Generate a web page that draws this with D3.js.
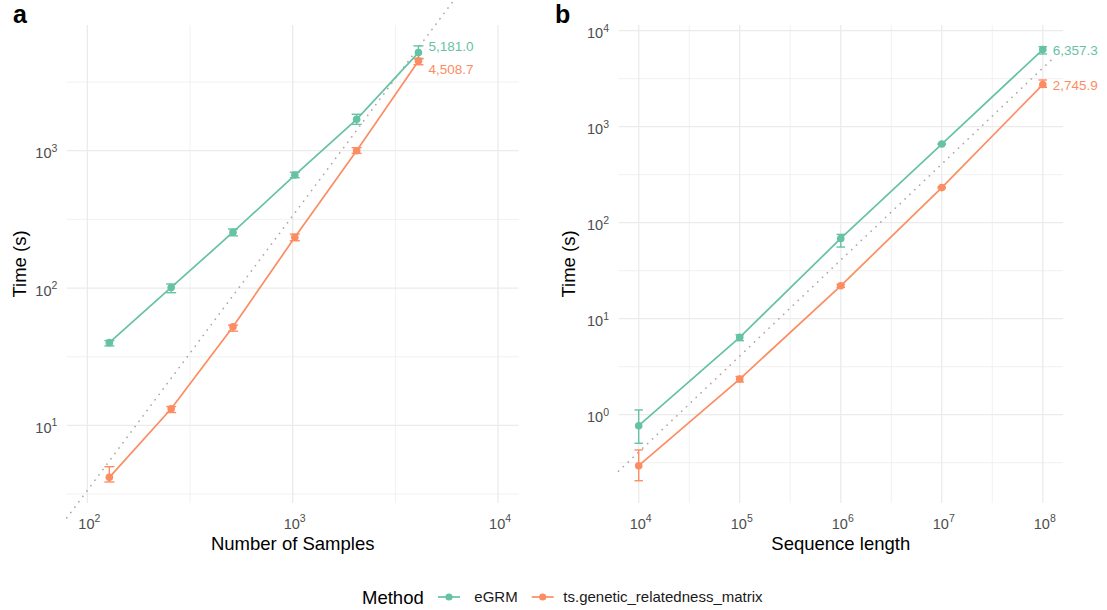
<!DOCTYPE html>
<html>
<head>
<meta charset="utf-8">
<script src="https://cdn.jsdelivr.net/npm/d3@7"></script>
<style>
  body { margin: 0; background: #ffffff; }
  svg { display: block; font-family: "Liberation Sans", Arial, Helvetica, sans-serif; }
</style>
</head>
<body>
<svg id="chart" width="1107" height="610"></svg>
<script>
// ---- data -----------------------------------------------------------------
const methods = ["eGRM", "ts.genetic_relatedness_matrix"];
const methodColors = ["#66C2A5", "#FC8D62"];

// (a) runtime vs number of samples
const sampleSizes = [128, 256, 512, 1024, 2048, 4096];
const samplesEgrm   = [40, 101, 255, 665, 1693, 5181.0];
const samplesEgrmLo = [37.9, 92.5, 240, 636, 1556, 4700];
const samplesEgrmHi = [41.4, 107, 269, 697, 1842, 5800];
const samplesTs     = [4.18, 13.2, 52.3, 234, 1000, 4508.7];
const samplesTsLo   = [3.87, 12.4, 48.5, 221, 957, 4227];
const samplesTsHi   = [5.0, 13.7, 53.7, 247, 1052, 4677];

// (b) runtime vs sequence length
const seqLengths = [1e4, 1e5, 1e6, 1e7, 1e8];
const seqEgrm   = [0.768, 6.4, 68.5, 659, 6357.3];
const seqEgrmLo = [0.504, 5.9, 55.7, 652, 5715];
const seqEgrmHi = [1.12, 6.8, 75.5, 666, 6813];
const seqTs     = [0.294, 2.35, 22.0, 232, 2745.9];
const seqTsLo   = [0.205, 2.19, 21.2, 229, 2571];
const seqTsHi   = [0.429, 2.5, 22.8, 235, 3064];

// axis limits (log10 exponents) and tick exponents
const samplesXLimits = [1.9, 4.1];
const samplesYLimits = [0.4345, 3.9155];
const samplesXTicks = [2, 3, 4];
const samplesYTicks = [1, 2, 3];
const seqXLimits = [3.8, 8.2];
const seqYLimits = [-0.92, 4.059];
const seqXTicks = [4, 5, 6, 7, 8];
const seqYTicks = [0, 1, 2, 3, 4];

// reference scaling lines: anchor point and slope on log-log axes
const samplesRef = { x0: 1000, y0: 336, slope: 2, xEnd: 4.1 };
const seqRef = { x0: 1e4, y0: 0.408, slope: 1, xEnd: 8.09 };

// ---- layout ---------------------------------------------------------------
const svg = d3.select("#chart");
const tickColor = "#4D4D4D";
const gridColor = "#EBEBEB";

function tenPow(sel, exp) {
  sel.append("tspan").text("10");
  sel.append("tspan").attr("dy", -6.5).attr("font-size", 10.5).text(exp);
}

function drawPanel(cfg) {
  const x = d3.scaleLog().domain(cfg.xLimits.map(e => 10 ** e)).range(cfg.xRange);
  const y = d3.scaleLog().domain(cfg.yLimits.map(e => 10 ** e)).range([503, 25]);
  const g = svg.append("g");

  // grid: majors at powers of ten, minors half a decade between
  const minorX = d3.range(Math.ceil(cfg.xLimits[0] - 0.5), cfg.xLimits[1], 1).map(e => e + 0.5)
    .filter(e => e > cfg.xLimits[0] && e < cfg.xLimits[1]);
  const minorY = d3.range(Math.ceil(cfg.yLimits[0] - 0.5), cfg.yLimits[1], 1).map(e => e + 0.5)
    .filter(e => e > cfg.yLimits[0] && e < cfg.yLimits[1]);

  g.selectAll(".gyMinor").data(minorY).join("line")
    .attr("x1", cfg.xRange[0]).attr("x2", cfg.xRange[1])
    .attr("y1", d => y(10 ** d)).attr("y2", d => y(10 ** d))
    .attr("stroke", gridColor).attr("stroke-width", 0.7);
  g.selectAll(".gxMinor").data(minorX).join("line")
    .attr("y1", 25).attr("y2", 503)
    .attr("x1", d => x(10 ** d)).attr("x2", d => x(10 ** d))
    .attr("stroke", gridColor).attr("stroke-width", 0.7);
  g.selectAll(".gyMajor").data(cfg.yTicks).join("line")
    .attr("x1", cfg.xRange[0]).attr("x2", cfg.xRange[1])
    .attr("y1", d => y(10 ** d)).attr("y2", d => y(10 ** d))
    .attr("stroke", gridColor).attr("stroke-width", 1.3);
  g.selectAll(".gxMajor").data(cfg.xTicks).join("line")
    .attr("y1", 25).attr("y2", 503)
    .attr("x1", d => x(10 ** d)).attr("x2", d => x(10 ** d))
    .attr("stroke", gridColor).attr("stroke-width", 1.3);

  // tick labels
  g.selectAll(".xt").data(cfg.xTicks).join("text")
    .attr("x", d => x(10 ** d) + 2).attr("y", 528.5)
    .attr("text-anchor", "middle").attr("font-size", 14.5).attr("fill", tickColor)
    .each(function (d) { tenPow(d3.select(this), d); });
  g.selectAll(".yt").data(cfg.yTicks).join("text")
    .attr("x", cfg.xRange[0] - 9.5).attr("y", d => y(10 ** d) + 7.5)
    .attr("text-anchor", "end").attr("font-size", 14.5).attr("fill", tickColor)
    .each(function (d) { tenPow(d3.select(this), d); });

  // axis titles and panel letter
  g.append("text").attr("x", (cfg.xRange[0] + cfg.xRange[1]) / 2).attr("y", 549.5)
    .attr("text-anchor", "middle").attr("font-size", 18.5).attr("fill", "#000")
    .text(cfg.xTitle);
  g.append("text")
    .attr("transform", `translate(${cfg.yTitleX},264) rotate(-90)`)
    .attr("text-anchor", "middle").attr("font-size", 18.5).attr("fill", "#000")
    .text("Time (s)");
  g.append("text").attr("x", cfg.letterX).attr("y", 23)
    .attr("font-size", 25).attr("font-weight", "bold").attr("fill", "#000")
    .text(cfg.letter);

  // dotted reference line
  const ref = cfg.ref;
  const refLine = d3.line().x(d => x(d)).y(d => y(ref.y0 * (d / ref.x0) ** ref.slope));
  const refXs = d3.range(0, 41).map(i => 10 ** (cfg.xLimits[0] + (ref.xEnd - cfg.xLimits[0]) * i / 40));
  g.append("path").attr("d", refLine(refXs))
    .attr("fill", "none").attr("stroke", "#B3A5A5").attr("stroke-width", 1.7)
    .attr("stroke-linecap", "round").attr("stroke-dasharray", "0.1 6.6");

  const xs = cfg.xs;
  cfg.series.forEach((s, i) => {
    const color = methodColors[i];
    const pts = xs.map((xv, j) => ({ x: xv, v: s.v[j], lo: s.lo[j], hi: s.hi[j] }));
    g.append("path").attr("d", d3.line().x(d => x(d.x)).y(d => y(d.v))(pts))
      .attr("fill", "none").attr("stroke", color).attr("stroke-width", 1.7);
    const eb = g.append("g").attr("stroke", color).attr("stroke-width", 1.4);
    const cw = cfg.capWidth / 2;
    eb.selectAll(".v").data(pts).join("line")
      .attr("x1", d => x(d.x)).attr("x2", d => x(d.x))
      .attr("y1", d => y(d.lo)).attr("y2", d => y(d.hi));
    eb.selectAll(".lo").data(pts).join("line")
      .attr("x1", d => x(d.x) - cw).attr("x2", d => x(d.x) + cw)
      .attr("y1", d => y(d.lo)).attr("y2", d => y(d.lo));
    eb.selectAll(".hi").data(pts).join("line")
      .attr("x1", d => x(d.x) - cw).attr("x2", d => x(d.x) + cw)
      .attr("y1", d => y(d.hi)).attr("y2", d => y(d.hi));
    g.selectAll(null).data(pts).join("circle")
      .attr("cx", d => x(d.x)).attr("cy", d => y(d.v)).attr("r", 3.8)
      .attr("fill", color);
    const last = pts[pts.length - 1];
    g.append("text")
      .attr("x", x(last.x) + 10).attr("y", y(last.v) + cfg.labelShift[i] + 5)
      .attr("font-size", 13.5).attr("fill", color)
      .text(d3.format(",.1f")(last.v));
  });
}

drawPanel({
  letter: "a", letterX: 13, xTitle: "Number of Samples", yTitleX: 25.5,
  xRange: [66.8, 518.6], xLimits: samplesXLimits, yLimits: samplesYLimits,
  xTicks: samplesXTicks, yTicks: samplesYTicks, xs: sampleSizes,
  series: [
    { v: samplesEgrm, lo: samplesEgrmLo, hi: samplesEgrmHi },
    { v: samplesTs, lo: samplesTsLo, hi: samplesTsHi }
  ],
  ref: samplesRef, capWidth: 10, labelShift: [-7, 8]
});

drawPanel({
  letter: "b", letterX: 555, xTitle: "Sequence length", yTitleX: 575,
  xRange: [618.5, 1063], xLimits: seqXLimits, yLimits: seqYLimits,
  xTicks: seqXTicks, yTicks: seqYTicks, xs: seqLengths,
  series: [
    { v: seqEgrm, lo: seqEgrmLo, hi: seqEgrmHi },
    { v: seqTs, lo: seqTsLo, hi: seqTsHi }
  ],
  ref: seqRef, capWidth: 8.5, labelShift: [0, 0]
});

// ---- legend ---------------------------------------------------------------
const legend = svg.append("g");
legend.append("text").attr("x", 362).attr("y", 603.5)
  .attr("font-size", 18.5).attr("fill", "#000").text("Method");
const keyX = [438, 531.7];
const labelX = [474.3, 563.3];
methods.forEach((m, i) => {
  legend.append("line").attr("x1", keyX[i]).attr("x2", keyX[i] + 22)
    .attr("y1", 597).attr("y2", 597)
    .attr("stroke", methodColors[i]).attr("stroke-width", 1.7);
  legend.append("circle").attr("cx", keyX[i] + 11).attr("cy", 597).attr("r", 3.6)
    .attr("fill", methodColors[i]);
  legend.append("text").attr("x", labelX[i]).attr("y", 602.3)
    .attr("font-size", 15).attr("fill", "#1a1a1a").text(m);
});
</script>
</body>
</html>
